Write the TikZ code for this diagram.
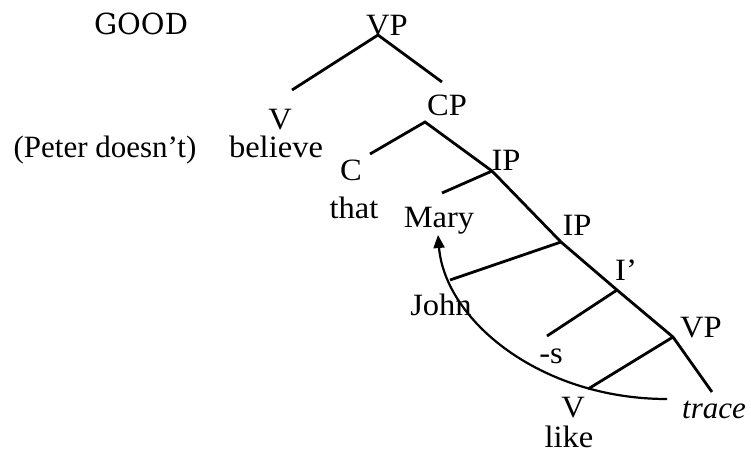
\documentclass[tikz,border=0pt]{standalone}
\usepackage{fontspec}
\setmainfont{Liberation Serif}
\newfontfamily\goodfont{DejaVu Serif}
\usetikzlibrary{arrows.meta}
\newcommand{\widetxt}[1]{\scalebox{1.05}[1]{#1}}
\begin{document}
\begin{tikzpicture}[x=1pt,y=-1pt,
  lbl/.style={anchor=base,inner sep=0pt,font=\fontsize{31}{36}\selectfont},
  br/.style={line width=2.8pt},
  mv/.style={line width=2.2pt,-{Triangle[length=13pt,width=11pt]}}]
\useasboundingbox (0,0) rectangle (751,456);
% labels
\node[lbl,font=\fontsize{29}{34}\goodfont] (good) at (141,34) {GOOD};
\node[lbl] (vp1) at (387,35) {\widetxt{VP}};
\node[lbl] (v1) at (280,129) {\widetxt{V}};
\node[lbl] (believe) at (276,157) {\widetxt{believe}};
\node[lbl] (peter) at (105,157) {(Peter doesn’t)};
\node[lbl] (cp) at (447,115) {\widetxt{CP}};
\node[lbl] (c) at (351,180) {\widetxt{C}};
\node[lbl] (that) at (354,218) {\widetxt{that}};
\node[lbl] (ip1) at (506,170) {\widetxt{IP}};
\node[lbl] (mary) at (439,227) {\widetxt{Mary}};
\node[lbl] (ip2) at (577,235) {\widetxt{IP}};
\node[lbl] (john) at (441,315) {\widetxt{John}};
\node[lbl] (ibar) at (626,280) {\widetxt{I’}};
\node[lbl] (s) at (551,363) {\widetxt{-s}};
\node[lbl] (vp2) at (701,337) {\widetxt{VP}};
\node[lbl] (v2) at (573,417) {\widetxt{V}};
\node[lbl] (like) at (569,447) {\widetxt{like}};
\node[lbl,font=\fontsize{31}{36}\selectfont\itshape] (trace) at (714,418) {trace};
% junctions
\coordinate (jvp1) at (378,35);
\coordinate (ev) at (292,90);
\coordinate (ecp) at (442,82);
\coordinate (jcp) at (425,122);
\coordinate (ec) at (370,154);
\coordinate (jip1) at (492,171);
\coordinate (emary) at (442,193);
\coordinate (jip2) at (561,242);
\coordinate (ejohn) at (450,280);
\coordinate (jibar) at (617,290);
\coordinate (es) at (547,336);
\coordinate (jvp2) at (673,337);
\coordinate (ev2) at (588,389);
\coordinate (etrace) at (712,392);
\coordinate (mstart) at (667,399);
\coordinate (mend) at (438,235);
% branches
\draw[br] (ev) -- (jvp1) -- (ecp);
\draw[br] (ec) -- (jcp) -- (jip1) -- (jip2) -- (jibar) -- (jvp2) -- (etrace);
\draw[br] (jip1) -- (emary);
\draw[br] (jip2) -- (ejohn);
\draw[br] (jibar) -- (es);
\draw[br] (jvp2) -- (ev2);
% movement arrow
\draw[mv] (mstart) .. controls (540,399) and (445,320) .. (mend);
\end{tikzpicture}
\end{document}
